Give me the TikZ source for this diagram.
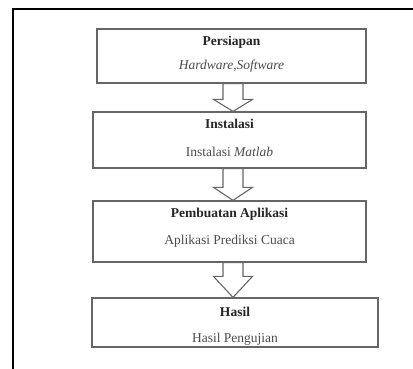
\documentclass[tikz,border=0pt]{standalone}
\usepackage{fontspec}
\setmainfont{Liberation Serif}
\usetikzlibrary{calc}

\tikzset{
  stagebox/.style={draw=black!60, line width=1.2pt, fill=white, inner sep=0pt},
  stagetitle/.style={font=\fontsize{13.5}{15}\selectfont\bfseries, text=black!85, inner sep=0pt},
  stagetext/.style={font=\fontsize{13.5}{15}\selectfont, text=black!70, inner sep=0pt},
  blockarrow/.style={draw=black!60, line width=1.1pt, fill=white, line join=miter}
}

% hollow block arrow from the bottom of one box to the top of the next
\newcommand{\flowarrow}[3]{%
  \draw[blockarrow] let \p1=(#1.south), \p2=(#2.north) in
    (233pt-10pt,\y1) -- (233pt+10pt,\y1) -- (233pt+10pt,\y2+#3) --
    (233pt+19.5pt,\y2+#3) -- (233pt,\y2) -- (233pt-19.5pt,\y2+#3) --
    (233pt-10pt,\y2+#3) -- cycle;}

\begin{document}
\begin{tikzpicture}[x=1pt, y=-1pt]
    \useasboundingbox (0,0) rectangle (413,369);

    % frame
    \draw[line width=2pt, black] (12.5,369) -- (12.5,9.5) -- (413,9.5);

    \node[stagebox, minimum width=269pt, minimum height=54pt] (prep) at (231.5,56) {};
    \node[stagebox, minimum width=273pt, minimum height=56pt] (inst) at (229.5,140) {};
    \node[stagebox, minimum width=273pt, minimum height=61pt] (app) at (229.5,231.5) {};
    \node[stagebox, minimum width=286pt, minimum height=49pt] (res) at (235,322.5) {};

    \node[stagetitle] (prepT) at ([yshift=-14pt]prep.north) {Persiapan};
    \node[stagetext] (prepS) at ([yshift=-24pt]prepT) {\textit{Hardware,Software}};
    \node[stagetitle] (instT) at ([yshift=-12.5pt]inst.north) {Instalasi};
    \node[stagetext] (instS) at ([yshift=-28pt]instT) {Instalasi \textit{Matlab}};
    \node[stagetitle] (appT) at ([yshift=-13.5pt]app.north) {Pembuatan Aplikasi};
    \node[stagetext] (appS) at ([yshift=-27pt]appT) {Aplikasi Prediksi Cuaca};
    \node[stagetitle] (resT) at ([yshift=-14.5pt]res.north) {Hasil};
    \node[stagetext] (resS) at ([yshift=-27pt]resT) {Hasil Pengujian};

    \flowarrow{prep}{inst}{12pt}
    \flowarrow{inst}{app}{13pt}
    \flowarrow{app}{res}{21pt}
\end{tikzpicture}
\end{document}
